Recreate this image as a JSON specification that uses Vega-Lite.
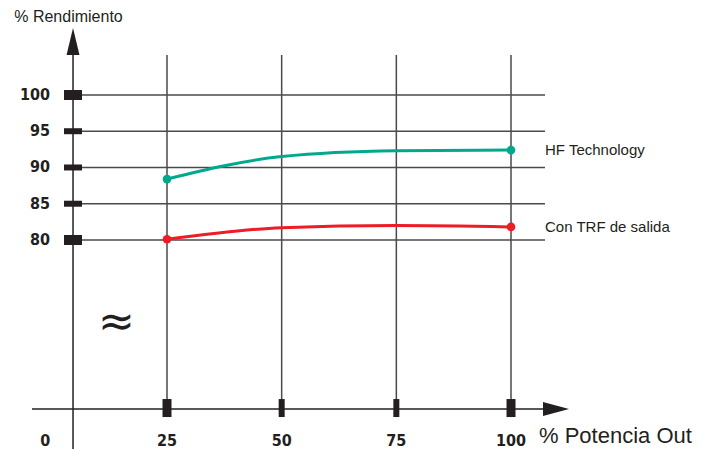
{
  "$schema": "https://vega.github.io/schema/vega-lite/v6.json",
  "width": 702,
  "height": 449,
  "autosize": {"type": "none"},
  "padding": 0,
  "background": "white",
  "config": {"view": {"stroke": null}},
  "datasets": {
    "curvas": [
      {"serie": "HF Technology", "pot": 25, "rend": 88.4},
      {"serie": "HF Technology", "pot": 50, "rend": 91.5},
      {"serie": "HF Technology", "pot": 75, "rend": 92.3},
      {"serie": "HF Technology", "pot": 100, "rend": 92.4},
      {"serie": "Con TRF de salida", "pot": 25, "rend": 80.1},
      {"serie": "Con TRF de salida", "pot": 50, "rend": 81.7},
      {"serie": "Con TRF de salida", "pot": 75, "rend": 82.0},
      {"serie": "Con TRF de salida", "pot": 100, "rend": 81.8}
    ],
    "nivY": [
      {"rend": 80, "mayor": true},
      {"rend": 85, "mayor": false},
      {"rend": 90, "mayor": false},
      {"rend": 95, "mayor": false},
      {"rend": 100, "mayor": true}
    ],
    "nivX": [
      {"pot": 25, "mayor": true},
      {"pot": 50, "mayor": false},
      {"pot": 75, "mayor": false},
      {"pot": 100, "mayor": true}
    ],
    "etiqX": [
      {"pot": 0}, {"pot": 25}, {"pot": 50}, {"pot": 75}, {"pot": 100}
    ],
    "uno": [{}]
  },
  "layer": [
    {
      "data": {"name": "nivY"},
      "mark": {"type": "rule", "stroke": "#4a4a4a", "strokeWidth": 1.5},
      "encoding": {
        "y": {"field": "rend", "type": "quantitative", "axis": null, "scale": {"domain": [51.17, 113.10], "nice": false, "zero": false}},
        "x": {"datum": 4.51, "type": "quantitative", "axis": null, "scale": {"domain": [-11.41, 141.64], "nice": false, "zero": false}},
        "x2": {"datum": 107.41}
      }
    },
    {
      "data": {"name": "nivX"},
      "mark": {"type": "rule", "stroke": "#4a4a4a", "strokeWidth": 1.5},
      "encoding": {
        "x": {"field": "pot", "type": "quantitative", "axis": null, "scale": {"domain": [-11.41, 141.64], "nice": false, "zero": false}},
        "y": {"datum": 105.51, "type": "quantitative", "axis": null, "scale": {"domain": [51.17, 113.10], "nice": false, "zero": false}},
        "y2": {"datum": 56.69}
      }
    },
    {
      "data": {"name": "uno"},
      "mark": {"type": "rule", "stroke": "#231f20", "strokeWidth": 1.5},
      "encoding": {
        "x": {"datum": 4.51, "type": "quantitative", "axis": null, "scale": {"domain": [-11.41, 141.64], "nice": false, "zero": false}},
        "y": {"datum": 106.5, "type": "quantitative", "axis": null, "scale": {"domain": [51.17, 113.10], "nice": false, "zero": false}},
        "y2": {"datum": 51.17}
      }
    },
    {
      "data": {"name": "uno"},
      "mark": {"type": "rule", "stroke": "#231f20", "strokeWidth": 1.5},
      "encoding": {
        "x": {"datum": -4.43, "type": "quantitative", "axis": null, "scale": {"domain": [-11.41, 141.64], "nice": false, "zero": false}},
        "x2": {"datum": 108.5},
        "y": {"datum": 56.69, "type": "quantitative", "axis": null, "scale": {"domain": [51.17, 113.10], "nice": false, "zero": false}}
      }
    },
    {
      "data": {"name": "uno"},
      "mark": {"type": "point", "shape": "M-0.48,1L0,-1L0.48,1Z", "size": 729, "filled": true, "fill": "#231f20", "strokeWidth": 0, "opacity": 1},
      "encoding": {
        "x": {"datum": 4.51, "type": "quantitative", "axis": null, "scale": {"domain": [-11.41, 141.64], "nice": false, "zero": false}},
        "y": {"datum": 107.38, "type": "quantitative", "axis": null, "scale": {"domain": [51.17, 113.10], "nice": false, "zero": false}}
      }
    },
    {
      "data": {"name": "uno"},
      "mark": {"type": "point", "shape": "M-1,-0.54L1,0L-1,0.54Z", "size": 676, "filled": true, "fill": "#231f20", "strokeWidth": 0, "opacity": 1},
      "encoding": {
        "x": {"datum": 109.81, "type": "quantitative", "axis": null, "scale": {"domain": [-11.41, 141.64], "nice": false, "zero": false}},
        "y": {"datum": 56.69, "type": "quantitative", "axis": null, "scale": {"domain": [51.17, 113.10], "nice": false, "zero": false}}
      }
    },
    {
      "data": {"name": "nivY"},
      "transform": [{"filter": "datum.mayor"}],
      "mark": {"type": "tick", "orient": "horizontal", "size": 18, "thickness": 10, "color": "#231f20", "opacity": 1},
      "encoding": {
        "y": {"field": "rend", "type": "quantitative", "axis": null, "scale": {"domain": [51.17, 113.10], "nice": false, "zero": false}},
        "x": {"datum": 4.51, "type": "quantitative", "axis": null, "scale": {"domain": [-11.41, 141.64], "nice": false, "zero": false}}
      }
    },
    {
      "data": {"name": "nivY"},
      "transform": [{"filter": "!datum.mayor"}],
      "mark": {"type": "tick", "orient": "horizontal", "size": 18, "thickness": 6, "color": "#231f20", "opacity": 1},
      "encoding": {
        "y": {"field": "rend", "type": "quantitative", "axis": null, "scale": {"domain": [51.17, 113.10], "nice": false, "zero": false}},
        "x": {"datum": 4.51, "type": "quantitative", "axis": null, "scale": {"domain": [-11.41, 141.64], "nice": false, "zero": false}}
      }
    },
    {
      "data": {"name": "nivX"},
      "transform": [{"filter": "datum.mayor"}],
      "mark": {"type": "tick", "orient": "vertical", "size": 18, "thickness": 9, "color": "#231f20", "opacity": 1},
      "encoding": {
        "x": {"field": "pot", "type": "quantitative", "axis": null, "scale": {"domain": [-11.41, 141.64], "nice": false, "zero": false}},
        "y": {"datum": 56.82, "type": "quantitative", "axis": null, "scale": {"domain": [51.17, 113.10], "nice": false, "zero": false}}
      }
    },
    {
      "data": {"name": "nivX"},
      "transform": [{"filter": "!datum.mayor"}],
      "mark": {"type": "tick", "orient": "vertical", "size": 18, "thickness": 6, "color": "#231f20", "opacity": 1},
      "encoding": {
        "x": {"field": "pot", "type": "quantitative", "axis": null, "scale": {"domain": [-11.41, 141.64], "nice": false, "zero": false}},
        "y": {"datum": 56.82, "type": "quantitative", "axis": null, "scale": {"domain": [51.17, 113.10], "nice": false, "zero": false}}
      }
    },
    {
      "data": {"name": "curvas"},
      "mark": {"type": "line", "interpolate": "monotone", "strokeWidth": 3},
      "encoding": {
        "x": {"field": "pot", "type": "quantitative", "axis": null, "scale": {"domain": [-11.41, 141.64], "nice": false, "zero": false}},
        "y": {"field": "rend", "type": "quantitative", "axis": null, "scale": {"domain": [51.17, 113.10], "nice": false, "zero": false}},
        "color": {"field": "serie", "type": "nominal", "legend": null, "scale": {"domain": ["HF Technology", "Con TRF de salida"], "range": ["#00a98d", "#ee1c25"]}}
      }
    },
    {
      "data": {"name": "curvas"},
      "transform": [{"filter": "datum.pot == 25 || datum.pot == 100"}],
      "mark": {"type": "circle", "size": 75, "opacity": 1},
      "encoding": {
        "x": {"field": "pot", "type": "quantitative", "axis": null, "scale": {"domain": [-11.41, 141.64], "nice": false, "zero": false}},
        "y": {"field": "rend", "type": "quantitative", "axis": null, "scale": {"domain": [51.17, 113.10], "nice": false, "zero": false}},
        "color": {"field": "serie", "type": "nominal", "legend": null, "scale": {"domain": ["HF Technology", "Con TRF de salida"], "range": ["#00a98d", "#ee1c25"]}}
      }
    },
    {
      "data": {"name": "curvas"},
      "transform": [{"filter": "datum.pot == 100"}],
      "mark": {"type": "text", "align": "left", "baseline": "middle", "dx": 34, "font": "Liberation Sans", "fontSize": 15, "fill": "#231f20"},
      "encoding": {
        "x": {"field": "pot", "type": "quantitative", "axis": null, "scale": {"domain": [-11.41, 141.64], "nice": false, "zero": false}},
        "y": {"field": "rend", "type": "quantitative", "axis": null, "scale": {"domain": [51.17, 113.10], "nice": false, "zero": false}},
        "text": {"field": "serie"}
      }
    },
    {
      "data": {"name": "nivY"},
      "mark": {"type": "text", "align": "right", "baseline": "middle", "font": "Liberation Sans Narrow, DejaVu Sans Condensed, Liberation Sans", "fontWeight": "bold", "fontSize": 16, "fill": "#231f20"},
      "encoding": {
        "y": {"field": "rend", "type": "quantitative", "axis": null, "scale": {"domain": [51.17, 113.10], "nice": false, "zero": false}},
        "x": {"datum": -0.5, "type": "quantitative", "axis": null, "scale": {"domain": [-11.41, 141.64], "nice": false, "zero": false}},
        "text": {"field": "rend"}
      }
    },
    {
      "data": {"name": "etiqX"},
      "transform": [{"filter": "datum.pot > 0"}],
      "mark": {"type": "text", "align": "center", "baseline": "alphabetic", "font": "Liberation Sans Narrow, DejaVu Sans Condensed, Liberation Sans", "fontWeight": "bold", "fontSize": 16, "fill": "#231f20"},
      "encoding": {
        "x": {"field": "pot", "type": "quantitative", "axis": null, "scale": {"domain": [-11.41, 141.64], "nice": false, "zero": false}},
        "y": {"datum": 51.6, "type": "quantitative", "axis": null, "scale": {"domain": [51.17, 113.10], "nice": false, "zero": false}},
        "text": {"field": "pot"}
      }
    },
    {
      "data": {"name": "etiqX"},
      "transform": [{"filter": "datum.pot == 0"}],
      "mark": {"type": "text", "align": "center", "baseline": "alphabetic", "dx": -7, "font": "Liberation Sans Narrow, DejaVu Sans Condensed, Liberation Sans", "fontWeight": "bold", "fontSize": 16, "fill": "#231f20"},
      "encoding": {
        "x": {"field": "pot", "type": "quantitative", "axis": null, "scale": {"domain": [-11.41, 141.64], "nice": false, "zero": false}},
        "y": {"datum": 51.6, "type": "quantitative", "axis": null, "scale": {"domain": [51.17, 113.10], "nice": false, "zero": false}},
        "text": {"field": "pot"}
      }
    },
    {
      "data": {"name": "uno"},
      "mark": {"type": "text", "text": "% Rendimiento", "align": "center", "baseline": "alphabetic", "font": "Liberation Sans", "fontSize": 16, "fill": "#231f20"},
      "encoding": {
        "x": {"datum": 3.52, "type": "quantitative", "axis": null, "scale": {"domain": [-11.41, 141.64], "nice": false, "zero": false}},
        "y": {"datum": 110.07, "type": "quantitative", "axis": null, "scale": {"domain": [51.17, 113.10], "nice": false, "zero": false}}
      }
    },
    {
      "data": {"name": "uno"},
      "mark": {"type": "text", "text": "% Potencia Out", "align": "left", "baseline": "alphabetic", "font": "Liberation Sans", "fontSize": 22, "fill": "#231f20"},
      "encoding": {
        "x": {"datum": 106.1, "type": "quantitative", "axis": null, "scale": {"domain": [-11.41, 141.64], "nice": false, "zero": false}},
        "y": {"datum": 52.0, "type": "quantitative", "axis": null, "scale": {"domain": [51.17, 113.10], "nice": false, "zero": false}}
      }
    },
    {
      "data": {"name": "uno"},
      "mark": {"type": "text", "text": "≈", "align": "center", "baseline": "middle", "font": "DejaVu Sans", "fontSize": 44, "fill": "#231f20"},
      "encoding": {
        "x": {"datum": 13.99, "type": "quantitative", "axis": null, "scale": {"domain": [-11.41, 141.64], "nice": false, "zero": false}},
        "y": {"datum": 68.55, "type": "quantitative", "axis": null, "scale": {"domain": [51.17, 113.10], "nice": false, "zero": false}}
      }
    }
  ]
}
